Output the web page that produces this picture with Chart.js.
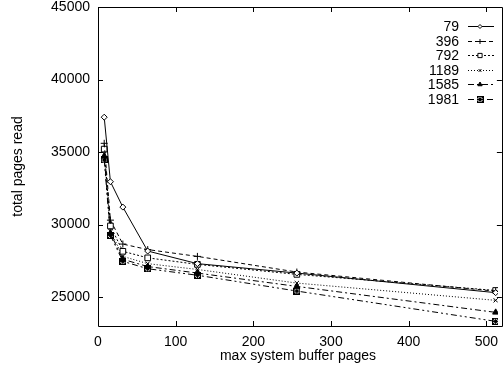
<!DOCTYPE html>
<html><head><meta charset="utf-8">
<script src="https://cdn.jsdelivr.net/npm/chart.js@4/dist/chart.umd.min.js"></script>
<style>html,body{margin:0;padding:0;background:#fff;overflow:hidden}canvas{display:block}</style>
</head><body>
<canvas id="c" width="503" height="369"></canvas>
<script>
const bufferPages = [8, 16, 32, 64, 128, 256, 512];
const seriesLabels = ['79', '396', '792', '1189', '1585', '1981'];
const s79   = [37400, 32950, 31200, 28170, 27300, 26650, 25300];
const s396  = [35600, 30300, 28650, 28270, 27800, 26720, 25400];
const s792  = [35200, 29900, 28150, 27700, 27250, 26560, 25450];
const s1189 = [34900, 29550, 27800, 27300, 26900, 25960, 24770];
const s1585 = [34700, 29400, 27600, 27100, 26650, 25730, 23940];
const s1981 = [34450, 29250, 27460, 26950, 26500, 25410, 23320];
const yTicks = [25000, 30000, 35000, 40000, 45000];
const xTicks = [0, 100, 200, 300, 400, 500];

const FONT = "'Liberation Sans', Arial, Helvetica, sans-serif";

function boxX() {
  const c = document.createElement('canvas');
  c.width = 7; c.height = 7;
  const g = c.getContext('2d');
  g.strokeStyle = '#000'; g.lineWidth = 1;
  g.strokeRect(0.5, 0.5, 6, 6);
  g.beginPath();
  g.moveTo(0.5, 0.5); g.lineTo(6.5, 6.5);
  g.moveTo(6.5, 0.5); g.lineTo(0.5, 6.5);
  g.moveTo(3.5, 0.5); g.lineTo(3.5, 6.5);
  g.moveTo(0.5, 3.5); g.lineTo(6.5, 3.5);
  g.stroke();
  return c;
}

const allSeries = [s79, s396, s792, s1189, s1585, s1981];
const styles = [
  {dash: [], ps: 'rectRot', r: 3, bg: '#fff'},
  {dash: [4, 3], ps: 'cross', r: 3.5, bg: '#fff'},
  {dash: [2, 2], ps: 'rect', r: 4, bg: '#fff'},
  {dash: [1, 2], ps: 'crossRot', r: 3, bg: '#fff'},
  {dash: [6, 3, 2, 3], ps: 'triangle', r: 3.5, bg: '#000'},
  {dash: [6, 3, 2, 3, 2, 3], ps: boxX(), r: 3.5, bg: '#000'}
];

const datasets = allSeries.map((vals, i) => ({
  label: seriesLabels[i],
  data: bufferPages.map((x, j) => ({x: x, y: vals[j]})),
  borderColor: '#000',
  backgroundColor: styles[i].bg,
  borderWidth: 1,
  borderDash: styles[i].dash,
  pointStyle: styles[i].ps,
  pointRadius: styles[i].r,
  pointBorderWidth: 1,
  pointBorderColor: '#000',
  pointBackgroundColor: styles[i].bg,
  tension: 0
}));

const framePlugin = {
  id: 'frame',
  afterDraw(chart) {
    const ctx = chart.ctx;
    const xs = chart.scales.x, ys = chart.scales.y;
    const L = xs.getPixelForValue(0);
    const R = xs.getPixelForValue(520);
    const T = ys.getPixelForValue(45000);
    const B = ys.getPixelForValue(23000);
    ctx.save();
    ctx.strokeStyle = '#000';
    ctx.lineWidth = 1;
    ctx.setLineDash([]);
    ctx.beginPath();
    ctx.rect(Math.round(L) + 0.5, Math.round(T) + 0.5, Math.round(R) - Math.round(L), Math.round(B) - Math.round(T));
    ctx.stroke();
    const tl = 5;
    ctx.beginPath();
    xTicks.forEach(v => {
      const px = Math.round(xs.getPixelForValue(v)) + 0.5;
      ctx.moveTo(px, B); ctx.lineTo(px, B - tl);
      ctx.moveTo(px, T); ctx.lineTo(px, T + tl);
    });
    yTicks.forEach(v => {
      const py = Math.round(ys.getPixelForValue(v)) + 0.5;
      ctx.moveTo(L, py); ctx.lineTo(L + tl, py);
      ctx.moveTo(R, py); ctx.lineTo(R - tl, py);
    });
    ctx.stroke();

    // legend
    ctx.font = '14px ' + FONT;
    ctx.fillStyle = '#000';
    ctx.textAlign = 'right';
    ctx.textBaseline = 'middle';
    const textRight = 459, x0 = 468, x1 = 494, y0 = 26, dy = 14.5;
    chart.data.datasets.forEach((ds, i) => {
      const y = Math.round(y0 + i * dy);
      ctx.fillText(ds.label, textRight, y + 1);
      ctx.beginPath();
      ctx.setLineDash(ds.borderDash);
      ctx.moveTo(x0, y + 0.5); ctx.lineTo(x1, y + 0.5);
      ctx.stroke();
      ctx.setLineDash([]);
      ctx.fillStyle = ds.pointBackgroundColor;
      Chart.helpers.drawPoint(ctx, {pointStyle: ds.pointStyle, radius: ds.pointRadius - 1, borderWidth: 1}, (x0 + x1) / 2 - 1, y + 0.5);
      ctx.fillStyle = '#000';
    });
    ctx.restore();
  }
};

new Chart(document.getElementById('c'), {
  type: 'line',
  data: {datasets: datasets},
  options: {
    responsive: false,
    animation: false,
    devicePixelRatio: 1,
    layout: {padding: {top: 7, right: 0, left: 0, bottom: 0}},
    plugins: {legend: {display: false}, tooltip: {enabled: false}},
    scales: {
      x: {
        type: 'linear', min: 0, max: 515,
        grid: {display: false, drawTicks: false},
        border: {display: false},
        afterBuildTicks: s => { s.ticks = xTicks.map(v => ({value: v})); },
        afterFit: s => { s.height = 43; s.paddingLeft = 0; s.paddingRight = 0; },
        ticks: {color: '#000', font: {family: FONT, size: 14}, padding: 8, maxRotation: 0, callback: v => String(v)},
        title: {display: true, text: 'max system buffer pages', color: '#000', font: {family: FONT, size: 14}, padding: {top: 0, bottom: 4}}
      },
      y: {
        type: 'linear', min: 23000, max: 45000,
        grid: {display: false, drawTicks: false},
        border: {display: false},
        afterBuildTicks: s => { s.ticks = yTicks.map(v => ({value: v})); },
        afterFit: s => { s.width = 98; s.paddingTop = 0; s.paddingBottom = 0; },
        ticks: {color: '#000', font: {family: FONT, size: 14}, padding: 8, callback: v => String(v)},
        title: {display: true, text: 'total pages read', color: '#000', font: {family: FONT, size: 14}, padding: {top: 10, bottom: 0}}
      }
    }
  },
  plugins: [framePlugin]
});
</script>
</body></html>
